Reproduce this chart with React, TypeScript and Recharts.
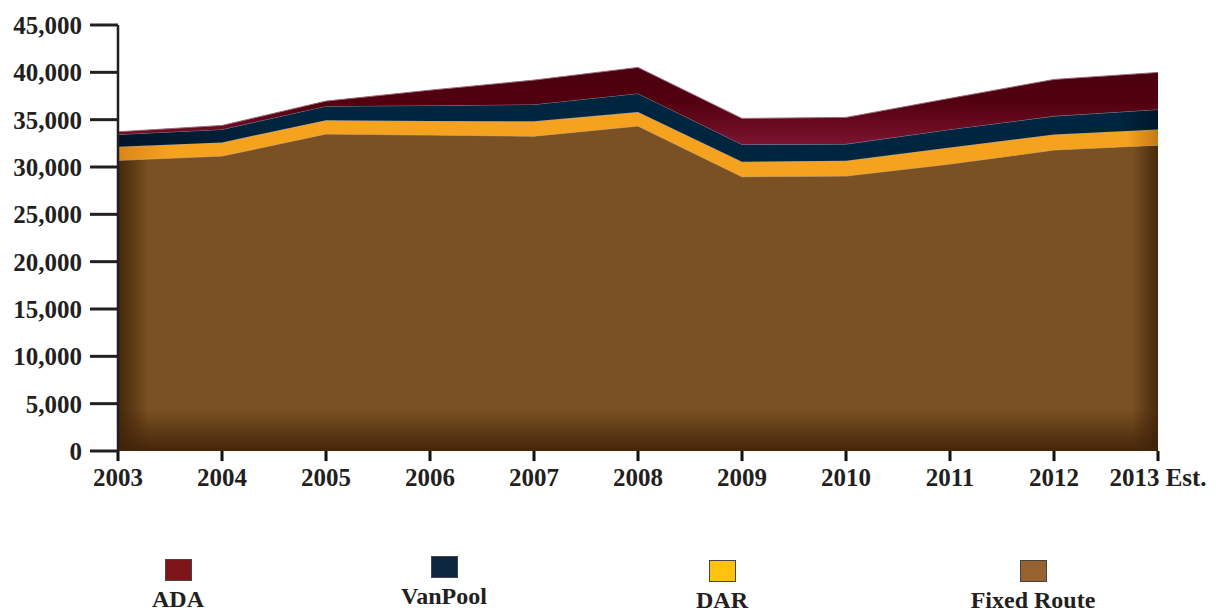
import { AreaChart, Area, XAxis, YAxis } from 'recharts';

const years = ['2003', '2004', '2005', '2006', '2007', '2008', '2009', '2010', '2011', '2012', '2013 Est.'];
const fixedRoute = [30700, 31150, 33480, 33370, 33260, 34320, 28970, 29040, 30310, 31790, 32310];
const dar = [1430, 1450, 1470, 1480, 1560, 1480, 1580, 1620, 1760, 1650, 1660];
const vanPool = [1310, 1370, 1480, 1650, 1790, 1970, 1840, 1760, 1900, 1940, 2110];
const ada = [280, 420, 530, 1620, 2570, 2750, 2740, 2820, 3280, 3870, 3910];
const yTicks = [0, 5000, 10000, 15000, 20000, 25000, 30000, 35000, 40000, 45000];

const legendItems = [
  { name: 'ADA', color: '#7E1518', left: 178, top: 0 },
  { name: 'VanPool', color: '#0D2540', left: 444, top: -3 },
  { name: 'DAR', color: '#FFC20E', left: 722, top: 1 },
  { name: 'Fixed Route', color: '#966330', left: 1033, top: 1 },
];

const font = '"Liberation Serif", "Times New Roman", serif';

const App = () => {
  const data = years.map((year, i) => ({
    year,
    fixedRoute: fixedRoute[i],
    dar: dar[i],
    vanPool: vanPool[i],
    ada: ada[i],
  }));

  const tickStyle = { fill: '#231f20', fontSize: 25, fontWeight: 700, fontFamily: font };

  return (
    <div style={{ position: 'absolute', left: 0, top: 0, width: 1216, height: 613, background: '#fff' }}>
      <AreaChart width={1216} height={613} data={data} margin={{ top: 25, right: 58, left: 0, bottom: 122 }}>
        <defs>
          <linearGradient id="gFixedV" x1="0" y1="0" x2="0" y2="1">
            <stop offset="0%" stopColor="#7B5123" />
            <stop offset="87%" stopColor="#7B5123" />
            <stop offset="100%" stopColor="#45260A" />
          </linearGradient>
          <linearGradient id="gFixedH" x1="0" y1="0" x2="1" y2="0">
            <stop offset="0%" stopColor="#3E2208" stopOpacity={0.9} />
            <stop offset="3%" stopColor="#3E2208" stopOpacity={0} />
            <stop offset="97.5%" stopColor="#3E2208" stopOpacity={0} />
            <stop offset="100%" stopColor="#3E2208" stopOpacity={0.85} />
          </linearGradient>
          <pattern id="gFixed" patternUnits="objectBoundingBox" patternContentUnits="objectBoundingBox" width="1" height="1">
            <rect x="0" y="0" width="1" height="1" fill="url(#gFixedV)" />
            <rect x="0" y="0" width="1" height="1" fill="url(#gFixedH)" />
          </pattern>
          <linearGradient id="gDar" x1="0" y1="0" x2="1" y2="0">
            <stop offset="0%" stopColor="#D9861A" />
            <stop offset="5%" stopColor="#F5A31E" />
            <stop offset="97%" stopColor="#F5A31E" />
            <stop offset="100%" stopColor="#C47A16" />
          </linearGradient>
          <linearGradient id="gVan" x1="0" y1="0" x2="1" y2="0">
            <stop offset="0%" stopColor="#001428" />
            <stop offset="15%" stopColor="#00263F" />
            <stop offset="96%" stopColor="#00263F" />
            <stop offset="100%" stopColor="#00182C" />
          </linearGradient>
          <linearGradient id="gAda" x1="0" y1="0" x2="0" y2="1">
            <stop offset="0%" stopColor="#4A000E" />
            <stop offset="45%" stopColor="#52000F" />
            <stop offset="100%" stopColor="#7C1430" />
          </linearGradient>
        </defs>
        <XAxis
          dataKey="year"
          height={40}
          axisLine={false}
          tickLine={{ stroke: '#111', strokeWidth: 3 }}
          tickSize={10}
          tickMargin={7}
          tick={tickStyle}
          interval={0}
        />
        <YAxis
          width={118}
          domain={[0, 45000]}
          ticks={yTicks}
          interval={0}
          axisLine={{ stroke: '#231f20', strokeWidth: 2.5 }}
          tickLine={{ stroke: '#231f20', strokeWidth: 3 }}
          tickSize={28}
          tickMargin={8}
          tick={tickStyle}
          tickFormatter={(v: number) => v.toLocaleString('en-US')}
        />
        <Area type="linear" dataKey="fixedRoute" name="Fixed Route" stackId="1" stroke="#a89070" strokeWidth={1} fill="url(#gFixed)" fillOpacity={1} isAnimationActive={false} />
        <Area type="linear" dataKey="dar" name="DAR" stackId="1" stroke="#b0a090" strokeWidth={1} fill="url(#gDar)" fillOpacity={1} isAnimationActive={false} />
        <Area type="linear" dataKey="vanPool" name="VanPool" stackId="1" stroke="#7a8a98" strokeWidth={1} fill="url(#gVan)" fillOpacity={1} isAnimationActive={false} />
        <Area type="linear" dataKey="ada" name="ADA" stackId="1" stroke="#9a6a78" strokeWidth={1} fill="url(#gAda)" fillOpacity={1} isAnimationActive={false} />
      </AreaChart>
      {legendItems.map((item) => (
        <div
          key={item.name}
          style={{
            position: 'absolute',
            left: item.left - 90,
            top: 559 + item.top,
            width: 180,
            display: 'flex',
            flexDirection: 'column',
            alignItems: 'center',
          }}
        >
          <div style={{ width: 25, height: 20, background: item.color, border: '1.5px solid #444' }} />
          <div
            style={{
              marginTop: 5,
              fontFamily: font,
              fontWeight: 700,
              fontSize: 24,
              lineHeight: '26px',
              color: '#231f20',
            }}
          >
            {item.name}
          </div>
        </div>
      ))}
    </div>
  );
};

export default App;
